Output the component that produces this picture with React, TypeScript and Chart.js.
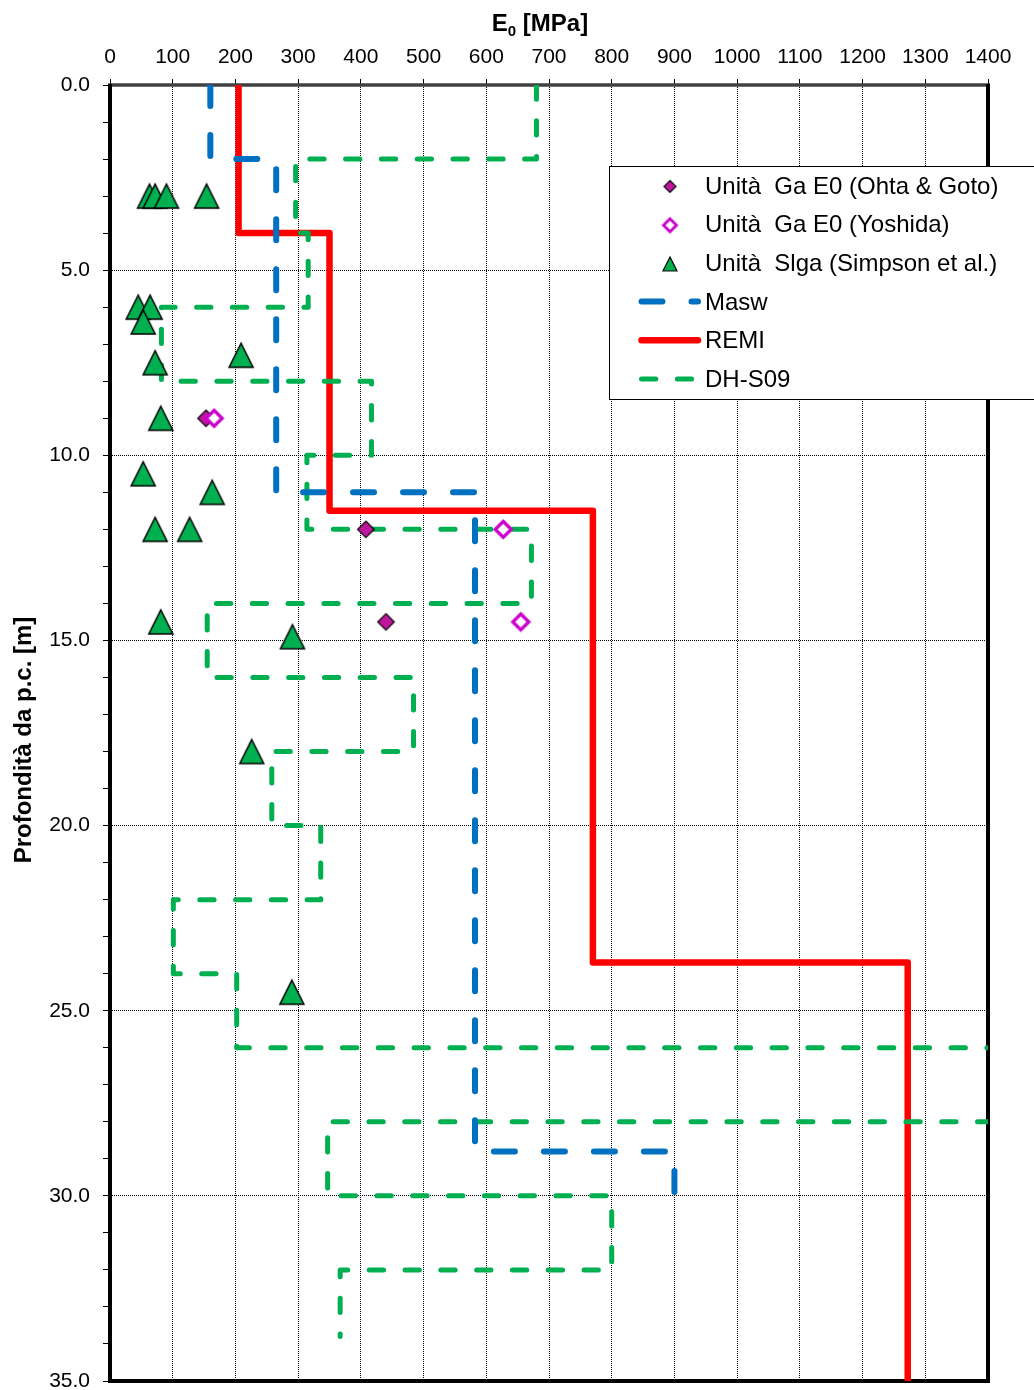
import { useEffect, useRef } from 'react';
import { Chart, registerables } from 'chart.js';

Chart.register(...registerables);

const FONT = '"Liberation Sans", Arial, Helvetica, sans-serif';

// Series names (legend order)
const seriesLabels = [
  'Unità  Ga E0 (Ohta & Goto)',
  'Unità  Ga E0 (Yoshida)',
  'Unità  Slga (Simpson et al.)',
  'Masw',
  'REMI',
  'DH-S09',
];

// Point measurements: E0 [MPa] vs depth [m]
const ohtaE = [153, 408, 440];
const ohtaZ = [9, 12, 14.5];

const yoshidaE = [166, 627, 655];
const yoshidaZ = [9, 12, 14.5];

const simpsonE = [63, 72, 90, 154, 45, 64, 53, 72, 209, 81, 53, 163, 72, 127, 81, 291, 226, 290];
const simpsonZ = [3, 3, 3, 3, 6, 6, 6.4, 7.5, 7.3, 9, 10.5, 11, 12, 12, 14.5, 14.9, 18, 24.5];

// Step profiles
const maswE = [160, 160, 265, 265, 582, 582, 900, 900];
const maswZ = [0, 2, 2, 11, 11, 28.8, 28.8, 30];

const remiE = [205, 205, 350, 350, 770, 770, 1272, 1272];
const remiZ = [0, 4, 4, 11.5, 11.5, 23.7, 23.7, 35];

const dhE = [680, 680, 296, 296, 316, 316, 82, 82, 417, 417, 314, 314, 672, 672, 155, 155,
  484, 484, 258, 258, 336, 336, 101, 101, 202, 202, 1600, 1600, 347, 347, 800, 800, 367, 367];
const dhZ = [0, 2, 2, 4, 4, 6, 6, 8, 8, 10, 10, 12, 12, 14, 14, 16,
  16, 18, 18, 20, 20, 22, 22, 24, 24, 26, 26, 28, 28, 30, 30, 32, 32, 33.8];

// Axes
const eMin = 0;
const eMax = 1400;
const eStep = 100;
const depthMin = 0;
const depthMax = 35;
const depthMinorStep = 1;
const depthLabelEvery = 5;

const GREEN = '#00B050';
const BLUE = '#0070C0';
const RED = '#FF0000';
const PURPLE = '#C0169F';
const MAGENTA = '#CC00CC';

const pts = (xs: number[], ys: number[]) => xs.map((x, i) => ({ x, y: ys[i] }));

function triangleMarker(size: number, lw: number) {
  const c = document.createElement('canvas');
  c.width = c.height = Math.ceil(size + 6);
  const g = c.getContext('2d')!;
  const m = c.width / 2;
  const h = size / 2;
  g.beginPath();
  g.moveTo(m, m - h);
  g.lineTo(m + h, m + h);
  g.lineTo(m - h, m + h);
  g.closePath();
  g.fillStyle = GREEN;
  g.fill();
  g.lineWidth = lw;
  g.strokeStyle = '#000';
  g.stroke();
  return c;
}

function diamondMarker(size: number, fill: string, stroke: string, lw: number) {
  const c = document.createElement('canvas');
  c.width = c.height = Math.ceil(size + lw * 2 + 4);
  const g = c.getContext('2d')!;
  const m = c.width / 2;
  const h = size / 2;
  g.beginPath();
  g.moveTo(m, m - h);
  g.lineTo(m + h, m);
  g.lineTo(m, m + h);
  g.lineTo(m - h, m);
  g.closePath();
  g.fillStyle = fill;
  g.fill();
  g.lineWidth = lw;
  g.strokeStyle = stroke;
  g.stroke();
  return c;
}

export default function App() {
  const ref = useRef<HTMLCanvasElement>(null);

  useEffect(() => {
    const canvas = ref.current;
    if (!canvas) return;

    const ohtaMark = diamondMarker(16.5, PURPLE, '#000', 1.2);
    const yoshidaMark = diamondMarker(16, '#fff', MAGENTA, 3.3);
    const triMark = triangleMarker(24, 1.5);
    const legendMarks: (HTMLCanvasElement | null)[] = [
      diamondMarker(12, PURPLE, '#000', 1.1),
      diamondMarker(13, '#fff', MAGENTA, 2.8),
      triangleMarker(14, 1.2),
      null,
      null,
      null,
    ];

    const decor = {
      id: 'decor',
      beforeDatasetsDraw(chart: any) {
        const { ctx, chartArea: a } = chart;
        ctx.save();
        ctx.lineCap = 'butt';
        ctx.strokeStyle = '#404040';
        ctx.lineWidth = 3.5;
        ctx.beginPath();
        ctx.moveTo(a.left - 2, a.top);
        ctx.lineTo(a.right + 2, a.top);
        ctx.stroke();
        ctx.strokeStyle = '#000';
        ctx.lineWidth = 4;
        ctx.beginPath();
        ctx.moveTo(a.left, a.top - 1);
        ctx.lineTo(a.left, a.bottom + 2);
        ctx.moveTo(a.left - 2, a.bottom);
        ctx.lineTo(a.right + 2, a.bottom);
        ctx.moveTo(a.right, a.top - 1);
        ctx.lineTo(a.right, a.bottom + 2);
        ctx.stroke();
        ctx.restore();
      },
      afterDraw(chart: any) {
        const { ctx, chartArea: a } = chart;
        ctx.save();
        ctx.fillStyle = '#000';
        ctx.textBaseline = 'alphabetic';

        // Axis title on top: E0 [MPa] with subscript
        const big = `bold 24px ${FONT}`;
        const small = `bold 15px ${FONT}`;
        ctx.font = big;
        const wE = ctx.measureText('E').width;
        const wR = ctx.measureText(' [MPa]').width;
        ctx.font = small;
        const w0 = ctx.measureText('0').width;
        const cx = (a.left + a.right) / 2 - 9;
        let x = cx - (wE + w0 + wR) / 2;
        ctx.textAlign = 'left';
        ctx.font = big;
        ctx.fillText('E', x, 31);
        x += wE;
        ctx.font = small;
        ctx.fillText('0', x, 36);
        x += w0;
        ctx.font = big;
        ctx.fillText(' [MPa]', x, 31);

        // Vertical axis title
        ctx.save();
        ctx.translate(31, (a.top + a.bottom) / 2 + 7);
        ctx.rotate(-Math.PI / 2);
        ctx.textAlign = 'center';
        ctx.font = big;
        ctx.fillText('Profondità da p.c. [m]', 0, 0);
        ctx.restore();

        // Legend box
        const bx = 609.5;
        const by = 166.5;
        ctx.fillStyle = '#fff';
        ctx.fillRect(bx, by, 600, 233);
        ctx.strokeStyle = '#000';
        ctx.lineWidth = 1;
        ctx.strokeRect(bx, by, 600, 233);

        const rowStart = 193.5;
        const rowGap = 38.7;
        chart.data.datasets.forEach((ds: any, i: number) => {
          const base = rowStart + i * rowGap;
          const mid = base - 8;
          const mark = legendMarks[i];
          if (mark) {
            ctx.drawImage(mark, 670 - mark.width / 2, mid - mark.height / 2 + 1);
          } else {
            ctx.save();
            ctx.strokeStyle = ds.borderColor;
            ctx.lineWidth = ds.borderWidth;
            ctx.lineCap = 'round';
            ctx.setLineDash(ds.borderDash || []);
            ctx.beginPath();
            ctx.moveTo(641.5, mid);
            ctx.lineTo(698, mid);
            ctx.stroke();
            ctx.restore();
          }
          ctx.fillStyle = '#000';
          ctx.font = `24px ${FONT}`;
          ctx.textAlign = 'left';
          ctx.fillText(ds.label, 705, base);
        });
        ctx.restore();
      },
    };

    const chart = new Chart(canvas, {
      type: 'scatter',
      data: {
        datasets: [
          {
            label: seriesLabels[0],
            data: pts(ohtaE, ohtaZ),
            pointStyle: ohtaMark as any,
            pointRadius: 9,
            pointHoverRadius: 9,
            showLine: false,
            order: 1,
          },
          {
            label: seriesLabels[1],
            data: pts(yoshidaE, yoshidaZ),
            pointStyle: yoshidaMark as any,
            pointRadius: 10,
            pointHoverRadius: 10,
            showLine: false,
            order: 0,
          },
          {
            label: seriesLabels[2],
            data: pts(simpsonE, simpsonZ),
            pointStyle: triMark as any,
            pointRadius: 13,
            pointHoverRadius: 13,
            showLine: false,
            order: 0,
          },
          {
            label: seriesLabels[3],
            data: pts(maswE, maswZ),
            showLine: true,
            borderColor: BLUE,
            borderWidth: 6,
            borderDash: [21, 29],
            borderCapStyle: 'round',
            borderJoinStyle: 'round',
            pointRadius: 0,
            pointHoverRadius: 0,
            tension: 0,
            order: 2,
          },
          {
            label: seriesLabels[4],
            data: pts(remiE, remiZ),
            showLine: true,
            borderColor: RED,
            borderWidth: 6.5,
            borderCapStyle: 'butt',
            borderJoinStyle: 'round',
            pointRadius: 0,
            pointHoverRadius: 0,
            tension: 0,
            order: 4,
          },
          {
            label: seriesLabels[5],
            data: pts(dhE, dhZ),
            showLine: true,
            borderColor: GREEN,
            borderWidth: 5,
            borderDash: [14.3, 21.5],
            borderCapStyle: 'round',
            borderJoinStyle: 'round',
            pointRadius: 0,
            pointHoverRadius: 0,
            tension: 0,
            order: 3,
          },
        ] as any,
      },
      options: {
        responsive: false,
        animation: false,
        devicePixelRatio: 1,
        events: [],
        layout: { autoPadding: false, padding: { left: 0, top: 0, right: 46, bottom: 9 } },
        plugins: {
          legend: { display: false },
          tooltip: { enabled: false },
          title: { display: false },
        },
        scales: {
          x: {
            type: 'linear',
            position: 'top',
            min: eMin,
            max: eMax,
            afterFit: (s: any) => {
              s.height = 85;
              s.paddingLeft = 0;
              s.paddingRight = 0;
            },
            ticks: {
              stepSize: eStep,
              autoSkip: false,
              maxRotation: 0,
              padding: 9,
              color: '#000',
              font: { family: FONT, size: 21 },
              callback: (v: any) => String(v),
            },
            grid: {
              color: '#000',
              lineWidth: 1,
              tickLength: 6,
              tickColor: '#000',
              tickWidth: 1,
            },
            border: { display: false, dash: [1, 1] },
          },
          y: {
            type: 'linear',
            reverse: true,
            min: depthMin,
            max: depthMax,
            afterFit: (s: any) => {
              s.width = 110;
              s.paddingTop = 0;
              s.paddingBottom = 0;
            },
            ticks: {
              stepSize: depthMinorStep,
              maxTicksLimit: 100,
              autoSkip: false,
              padding: 13,
              color: '#000',
              font: { family: FONT, size: 21 },
              callback: (v: any) => (Number(v) % depthLabelEvery === 0 ? Number(v).toFixed(1) : ''),
            },
            grid: {
              color: (c: any) =>
                c.tick && c.tick.value % depthLabelEvery === 0 ? '#000' : 'rgba(0,0,0,0)',
              lineWidth: 1,
              tickLength: 7,
              tickColor: '#000',
              tickWidth: 1,
            },
            border: { display: false, dash: [1, 1] },
          },
        },
      },
      plugins: [decor],
    } as any);

    return () => chart.destroy();
  }, []);

  return (
    <div style={{ position: 'absolute', left: 0, top: 0, width: 1034, height: 1390, background: '#fff' }}>
      <canvas ref={ref} width={1034} height={1390} style={{ display: 'block', width: 1034, height: 1390 }} />
    </div>
  );
}
